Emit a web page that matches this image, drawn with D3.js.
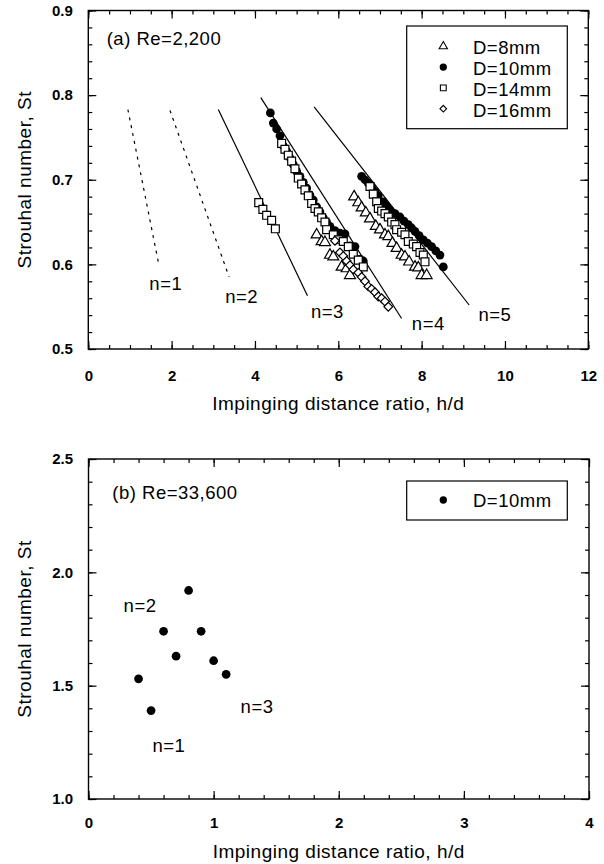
<!DOCTYPE html>
<html>
<head>
<meta charset="utf-8">
<script src="https://cdn.jsdelivr.net/npm/d3@7"></script>
<style>
  body { margin: 0; background: #fff; }
  svg { display: block; font-family: "Liberation Sans", Arial, sans-serif; }
  .tick line { stroke: #000; stroke-width: 1.2; }
</style>
</head>
<body>
<div id="chart"></div>
<script>
// ---- data, panel (a) Re=2,200 : [h/d, St]
const d8mm = [
  [5.48,0.635],[5.60,0.627],[5.68,0.626],[5.80,0.611],[5.88,0.609],[6.08,0.597],[6.20,0.595],[6.28,0.587],
  [6.38,0.680],[6.48,0.673],[6.56,0.667],[6.66,0.661],[6.76,0.654],[6.90,0.645],[7.00,0.641],[7.12,0.635],
  [7.20,0.633],[7.30,0.625],[7.40,0.619],[7.52,0.611],[7.60,0.609],[7.70,0.603],[7.84,0.597],[7.92,0.596],
  [8.00,0.587],[8.12,0.587]
];
const d10mm = [
  [4.37,0.779],[4.44,0.767],[4.52,0.760],[4.60,0.752],[4.68,0.740],[4.76,0.734],[4.84,0.726],[4.92,0.718],
  [5.00,0.710],[5.08,0.704],[5.16,0.697],[5.24,0.690],[5.32,0.682],[5.40,0.676],[5.48,0.668],[5.56,0.662],
  [5.64,0.655],[5.72,0.650],[5.80,0.645],[5.92,0.640],[6.04,0.637],[6.16,0.636],[6.28,0.622],[6.40,0.621],
  [6.52,0.606],[6.60,0.604],
  [6.56,0.704],[6.64,0.700],[6.72,0.696],[6.80,0.691],[6.88,0.686],[6.96,0.681],[7.08,0.674],[7.16,0.669],
  [7.24,0.664],[7.36,0.660],[7.48,0.656],[7.58,0.651],[7.68,0.647],[7.76,0.643],[7.84,0.639],[7.94,0.634],
  [8.04,0.629],[8.14,0.625],[8.24,0.621],[8.34,0.616],[8.44,0.611],[8.52,0.597]
];
const d14mm = [
  [4.09,0.673],[4.19,0.665],[4.28,0.658],[4.40,0.652],[4.49,0.642],
  [4.64,0.743],[4.72,0.736],[4.80,0.729],[4.88,0.722],[4.96,0.713],[5.04,0.702],[5.12,0.695],[5.20,0.688],
  [5.28,0.681],[5.36,0.672],[5.44,0.666],[5.52,0.662],[5.60,0.655],[5.68,0.650],[5.72,0.641],[5.88,0.635],
  [6.00,0.629],[6.12,0.627],[6.24,0.621],[6.36,0.612],[6.48,0.605],[6.60,0.597],
  [6.76,0.692],[6.84,0.683],[6.92,0.674],[6.96,0.666],[7.04,0.663],[7.12,0.660],[7.20,0.656],[7.28,0.650],
  [7.36,0.647],[7.40,0.641],[7.52,0.638],[7.60,0.635],[7.68,0.627],[7.80,0.624],[7.88,0.621],[7.96,0.614],
  [8.04,0.611],[8.08,0.603]
];
const d16mm = [
  [5.92,0.628],[6.04,0.614],[6.12,0.610],[6.20,0.604],[6.28,0.599],[6.36,0.594],[6.48,0.590],[6.56,0.585],
  [6.64,0.580],[6.72,0.574],[6.80,0.571],[6.88,0.567],[6.96,0.562],[7.04,0.560],[7.12,0.556],[7.20,0.550]
];
// mode lines n=1..5 : start/end [h/d, St]
const modeN = [1, 2, 3, 4, 5];
const modeStart = [[0.95,0.783],[1.96,0.782],[3.12,0.783],[4.14,0.797],[5.42,0.786]];
const modeEnd = [[1.70,0.598],[3.38,0.585],[5.26,0.563],[7.52,0.536],[9.14,0.552]];
const modeLabelPos = [[1.86,0.570],[3.68,0.554],[5.74,0.537],[8.16,0.522],[9.76,0.533]];

// ---- data, panel (b) Re=33,600
const bX = [0.4, 0.5, 0.6, 0.7, 0.8, 0.9, 1.0, 1.1];
const bSt = [1.53, 1.39, 1.74, 1.63, 1.92, 1.74, 1.61, 1.55];
const bLabels = ["n=1", "n=2", "n=3"];
const bLabelPos = [[0.643,1.207],[0.412,1.825],[1.347,1.379]];

const xTicksA = [0, 2, 4, 6, 8, 10, 12];
const yTicksA = [0.5, 0.6, 0.7, 0.8, 0.9];
const xTicksB = [0, 1, 2, 3, 4];
const yTicksB = [1.0, 1.5, 2.0, 2.5];

const W = 604, H = 864;
const svg = d3.select("#chart").append("svg")
    .attr("width", W)
    .attr("height", H);

// scales
const xA = d3.scaleLinear().domain([0, 12]).range([88.3, 588.3]);
const yA = d3.scaleLinear().domain([0.5, 0.9]).range([349, 10.5]);
const xB = d3.scaleLinear().domain([0, 4]).range([88.5, 589]);
const yB = d3.scaleLinear().domain([1.0, 2.5]).range([799, 459]);

function range(a, b, step) {
    const out = [];
    for (let v = a; v <= b + 1e-9; v += step) out.push(+v.toFixed(4));
    return out;
}

// frame with inward ticks on every side
function drawFrame(x, y, xMajor, yMajor, xMinor, yMinor, xFmt, yFmt, xPad) {
    const [x0, x1] = x.range();
    const [y0, y1] = y.range(); // y0 bottom, y1 top
    const g = svg.append("g");

    const axes = [
        {ax: d3.axisBottom, s: x, t: "translate(0," + y0 + ")", lab: true},
        {ax: d3.axisTop, s: x, t: "translate(0," + y1 + ")", lab: false},
        {ax: d3.axisLeft, s: y, t: "translate(" + x0 + ",0)", lab: true},
        {ax: d3.axisRight, s: y, t: "translate(" + x1 + ",0)", lab: false}
    ];
    axes.forEach(a => {
        const horiz = a.s === x;
        const major = horiz ? xMajor : yMajor;
        const minor = horiz ? xMinor : yMinor;
        // minor ticks
        g.append("g").attr("transform", a.t)
            .call(a.ax(a.s).tickValues(minor).tickFormat("").tickSizeInner(-4).tickSizeOuter(0))
            .call(s => s.select(".domain").remove());
        // major ticks + labels
        const axis = a.ax(a.s).tickValues(major).tickSizeInner(-8).tickSizeOuter(0)
            .tickFormat(a.lab ? (horiz ? xFmt : yFmt) : "")
            .tickPadding(horiz ? xPad : 15.5);
        g.append("g").attr("transform", a.t)
            .call(axis)
            .call(s => s.select(".domain").remove())
            .call(s => s.selectAll("text")
                .attr("fill", "#000")
                .style("font-size", "15px")
                .style("font-weight", "bold")
                .style("font-family", "'Liberation Sans', Arial, sans-serif"));
    });
    g.append("rect")
        .attr("x", x0).attr("y", y1)
        .attr("width", x1 - x0).attr("height", y0 - y1)
        .attr("fill", "none").attr("stroke", "#000").attr("stroke-width", 1.4);
}

function addText(x, y, str, size, opts) {
    const t = svg.append("text")
        .attr("x", x).attr("y", y)
        .attr("fill", "#000")
        .style("font-size", size + "px")
        .style("letter-spacing", "0.5px")
        .text(str);
    if (opts && opts.anchor) t.attr("text-anchor", opts.anchor);
    if (opts && opts.rotate) t.attr("transform", "rotate(-90," + x + "," + y + ")");
    return t;
}

const symCircle = d3.symbol().type(d3.symbolCircle).size(60);
const symSquare = d3.symbol().type(d3.symbolSquare).size(62);
const symTri = d3.symbol().type(d3.symbolTriangle).size(52);
const symDiamond = d3.symbol().type(d3.symbolSquare).size(38);

function markers(data, x, y, sym, filled, rot) {
    svg.append("g").selectAll("path")
        .data(data)
        .join("path")
        .attr("d", sym)
        .attr("transform", d => "translate(" + x(d[0]) + "," + y(d[1]) + ")" + (rot ? " rotate(45)" : ""))
        .attr("fill", filled ? "#000" : "#fff")
        .attr("stroke", "#000")
        .attr("stroke-width", filled ? 0 : 1.2);
}

// ---------------- panel (a)
drawFrame(xA, yA, xTicksA, yTicksA, range(0, 12, 0.5), range(0.5, 0.9, 0.02),
    d => d, d => d.toFixed(1), 21.5);

// mode lines
modeN.forEach((n, i) => {
    svg.append("line")
        .attr("x1", xA(modeStart[i][0])).attr("y1", yA(modeStart[i][1]))
        .attr("x2", xA(modeEnd[i][0])).attr("y2", yA(modeEnd[i][1]))
        .attr("stroke", "#000")
        .attr("stroke-width", 1.2)
        .attr("stroke-dasharray", n <= 2 ? "3,5" : null);
    addText(xA(modeLabelPos[i][0]), yA(modeLabelPos[i][1]), "n=" + n, 18.5, {anchor: "middle"});
});

markers(d10mm, xA, yA, symCircle, true);
markers(d14mm, xA, yA, symSquare, false);
markers(d8mm, xA, yA, symTri, false);
markers(d16mm, xA, yA, symDiamond, false, true);

addText(106.7, 45, "(a) Re=2,200", 18.5);

// legend (a)
const legA = [
    {lab: "D=8mm", type: d3.symbolTriangle, size: 30, fill: false, rot: false},
    {lab: "D=10mm", type: d3.symbolCircle, size: 42, fill: true, rot: false},
    {lab: "D=14mm", type: d3.symbolSquare, size: 34, fill: false, rot: false},
    {lab: "D=16mm", type: d3.symbolSquare, size: 22, fill: false, rot: true}
];
svg.append("rect").attr("x", 406.7).attr("y", 26).attr("width", 160.6).attr("height", 102.7)
    .attr("fill", "#fff").attr("stroke", "#000").attr("stroke-width", 1.2);
legA.forEach((l, i) => {
    const yy = 54.3 + i * 20.8;
    svg.append("path").attr("d", d3.symbol().type(l.type).size(l.size)())
        .attr("transform", "translate(443.3," + (yy - 8) + ")" + (l.rot ? " rotate(45)" : ""))
        .attr("fill", l.fill ? "#000" : "#fff")
        .attr("stroke", "#000").attr("stroke-width", l.fill ? 0 : 1.1);
    addText(473, yy, l.lab, 18.5);
});

addText((xA(0) + xA(12)) / 2, 410, "Impinging distance ratio, h/d", 19, {anchor: "middle"});
addText(31, (yA(0.5) + yA(0.9)) / 2, "Strouhal number, St", 19, {anchor: "middle", rotate: true});

// ---------------- panel (b)
drawFrame(xB, yB, xTicksB, yTicksB, range(0, 4, 0.2), range(1.0, 2.5, 0.1),
    d => d, d => d.toFixed(1), 18.4);

const bData = bX.map((x, i) => [x, bSt[i]]);
markers(bData, xB, yB, symCircle, true);

bLabels.forEach((l, i) => {
    addText(xB(bLabelPos[i][0]), yB(bLabelPos[i][1]), l, 18.5, {anchor: "middle"});
});

addText(112.3, 499, "(b) Re=33,600", 18.5);

svg.append("rect").attr("x", 406.7).attr("y", 481).attr("width", 160.6).attr("height", 39)
    .attr("fill", "#fff").attr("stroke", "#000").attr("stroke-width", 1.2);
svg.append("path").attr("d", d3.symbol().type(d3.symbolCircle).size(42)())
    .attr("transform", "translate(443.3,500)").attr("fill", "#000");
addText(473, 507, "D=10mm", 18.5);

addText((xB(0) + xB(4)) / 2, 858, "Impinging distance ratio, h/d", 19, {anchor: "middle"});
addText(31, (yB(1.0) + yB(2.5)) / 2, "Strouhal number, St", 19, {anchor: "middle", rotate: true});
</script>
</body>
</html>
